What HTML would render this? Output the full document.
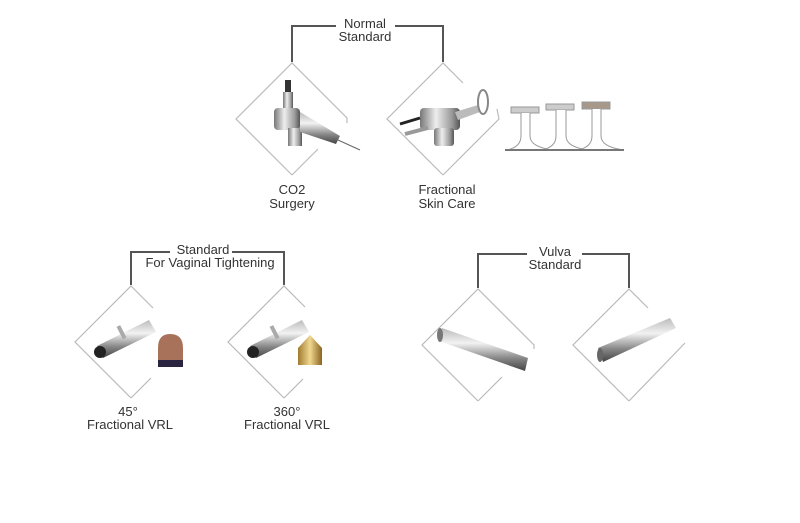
<!DOCTYPE html>
<html><head><meta charset="utf-8"><style>
body{margin:0;background:#fff;}
svg{display:block}
text{font-family:"Liberation Sans",sans-serif;font-size:13px;fill:#333;text-anchor:middle}
</style></head><body>
<svg width="800" height="523" viewBox="0 0 800 523" xmlns="http://www.w3.org/2000/svg">
<defs>
<linearGradient id="m" x1="0" y1="0" x2="0" y2="1"><stop offset="0" stop-color="#bbb"/><stop offset=".35" stop-color="#f2f2f2"/><stop offset=".7" stop-color="#888"/><stop offset="1" stop-color="#444"/></linearGradient>
<linearGradient id="m2" x1="0" y1="0" x2="1" y2="0"><stop offset="0" stop-color="#777"/><stop offset=".4" stop-color="#eee"/><stop offset=".8" stop-color="#999"/><stop offset="1" stop-color="#555"/></linearGradient>
<linearGradient id="gold" x1="0" y1="0" x2="1" y2="0"><stop offset="0" stop-color="#a07a30"/><stop offset=".5" stop-color="#f0d890"/><stop offset="1" stop-color="#8a6420"/></linearGradient>
</defs>
<g fill="none" stroke="#555" stroke-width="2">
<path d="M292,62 V26 H336 M395,26 H443 V62"/>
<path d="M131,285 V252 H170 M232,252 H284 V285"/>
<path d="M478,288 V254 H527 M582,254 H629 V288"/>
</g>
<g fill="none" stroke="#bbb" stroke-width="1.2">
<g transform="translate(292,119)"><path d="M0,56 L-56,0 L0,-56 L55,-1 L55,4 M26,30 L0,56"/></g>
<g transform="translate(443,119)"><path d="M0,56 L-56,0 L0,-56 L20,-36 M54,-10 L56,0 L0,56"/></g>
<g transform="translate(131,342)"><path d="M0,56 L-56,0 L0,-56 L22,-34 M20,36 L0,56"/></g>
<g transform="translate(284,342)"><path d="M0,56 L-56,0 L0,-56 L21,-35 M19,37 L0,56"/></g>
<g transform="translate(478,345)"><path d="M0,56 L-56,0 L0,-56 L56,0 L56,4 M24,32 L0,56"/></g>
<g transform="translate(629,345)"><path d="M0,56 L-56,0 L0,-56 L19,-37 M56,-2 L0,56"/></g>
</g>
<!-- CO2 handpiece -->
<g>
<rect x="285" y="80" width="6" height="14" fill="#333"/>
<rect x="283" y="92" width="10" height="20" fill="url(#m2)"/>
<rect x="274" y="108" width="26" height="22" rx="4" fill="url(#m2)"/>
<rect x="288" y="128" width="14" height="18" fill="url(#m2)"/>
<path d="M300,112 L340,136 L336,144 L300,132 Z" fill="url(#m)"/>
<path d="M338,140 L360,150" stroke="#666" stroke-width="1"/>
</g>
<!-- Fractional skin -->
<g>
<rect x="420" y="108" width="40" height="22" rx="4" fill="url(#m2)"/>
<path d="M455,112 L478,105 L480,112 L458,120Z" fill="#bbb"/>
<ellipse cx="483" cy="102" rx="5" ry="12" fill="none" stroke="#888" stroke-width="2"/>
<rect x="434" y="128" width="20" height="18" rx="3" fill="url(#m2)"/>
<path d="M400,124 L420,118" stroke="#222" stroke-width="3"/>
<path d="M405,134 L428,128" stroke="#999" stroke-width="4"/>
</g>
<!-- three tips -->
<g fill="#fff" stroke="#999" stroke-width="1">
<rect x="511" y="107" width="28" height="6" fill="#ccc"/>
<path d="M521,113 V136 Q521,147 507,150 H553 Q530,147 530,136 V113"/>
<rect x="546" y="104" width="28" height="6" fill="#ccc"/>
<path d="M556,110 V136 Q556,147 542,150 H588 Q566,147 566,136 V110"/>
<rect x="582" y="102" width="28" height="7" fill="#a8988a"/>
<path d="M592,109 V136 Q592,147 578,150 H624 Q601,147 601,136 V109"/>
<line x1="505" y1="150" x2="624" y2="150" stroke="#777" stroke-width="2"/>
</g>
<!-- VRL probes -->
<g transform="translate(131,342)"><path d="M-34,4 L18,-22 L25,-10 L-28,16Z" fill="url(#m)"/><rect x="-6" y="-20" width="4" height="14" fill="#aaa" transform="rotate(-27)"/><circle cx="-31" cy="10" r="6" fill="#222"/></g>
<g transform="translate(284,342)"><path d="M-34,4 L18,-22 L25,-10 L-28,16Z" fill="url(#m)"/><rect x="-6" y="-20" width="4" height="14" fill="#aaa" transform="rotate(-27)"/><circle cx="-31" cy="10" r="6" fill="#222"/></g>
<path d="M158,348 Q158,334 170,334 Q183,334 183,348 V360 H158Z" fill="#a8725a"/>
<rect x="158" y="360" width="25" height="7" fill="#2a2440"/>
<path d="M298,348 L310,335 L322,348 V365 H298Z" fill="url(#gold)"/>
<!-- vulva probes -->
<path d="M442,328 L528,358 L525,371 L439,341Z" fill="url(#m)"/>
<ellipse cx="440" cy="335" rx="3" ry="7" fill="#777"/>
<path d="M598,348 L670,318 L676,328 L603,362Z" fill="url(#m)"/>
<ellipse cx="600" cy="355" rx="3" ry="7" fill="#666"/>
<text x="292" y="194">CO2</text><text x="292" y="208">Surgery</text>
<text x="447" y="194">Fractional</text><text x="447" y="208">Skin Care</text>
<text x="365" y="28">Normal</text><text x="365" y="41">Standard</text>
<text x="203" y="254">Standard</text><text x="210" y="267">For Vaginal Tightening</text>
<text x="555" y="256">Vulva</text><text x="555" y="269">Standard</text>
<text x="128" y="416">45°</text><text x="130" y="429">Fractional VRL</text>
<text x="287" y="416">360°</text><text x="287" y="429">Fractional VRL</text>
</svg>
</body></html>
